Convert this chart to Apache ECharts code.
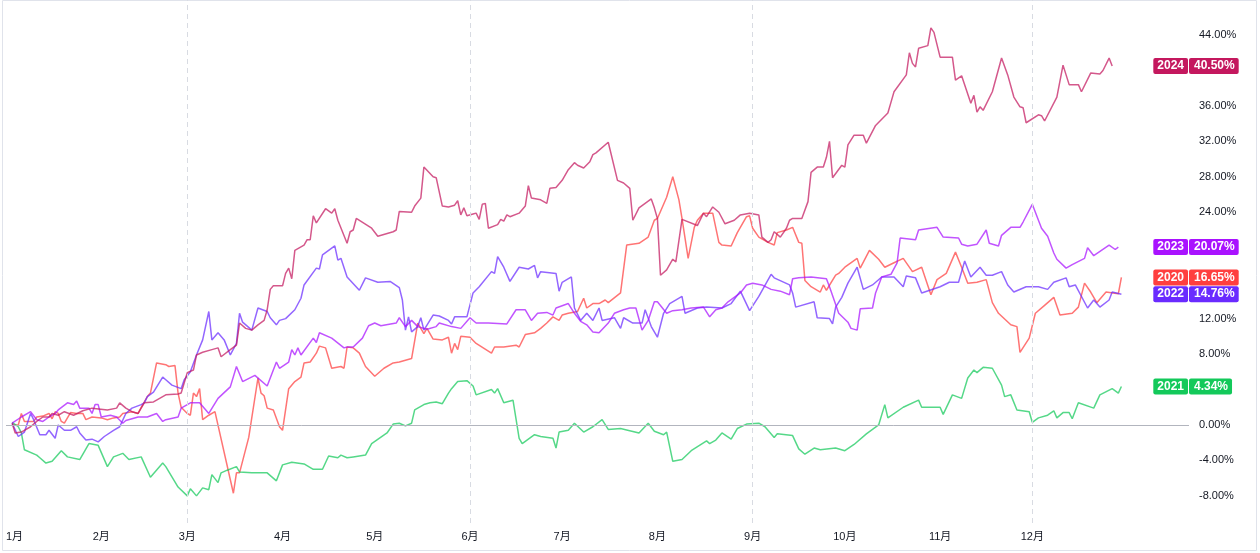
<!DOCTYPE html>
<html>
<head>
<meta charset="utf-8">
<script src="https://cdn.jsdelivr.net/npm/echarts@6/dist/echarts.min.js"></script>
<style>
html,body{margin:0;padding:0;background:#fff;}
#chart{width:1260px;height:553px;}
</style>
</head>
<body>
<div id="chart"></div>
<script>
// ---- data ----
const monthLabels = ['1月','2月','3月','4月','5月','6月','7月','8月','9月','10月','11月','12月'];
const monthStartDays = [0,31,59,90,120,151,181,212,243,273,304,334];
const quarterDays = [59,151,243,334];
const yTickValues = [-8,-4,0,8,12,24,28,32,36,44];
const years = ['2020','2021','2022','2023','2024'];

const s2021 = [[2,0.3],[4,-0.2],[5,-0.9],[6,-2.8],[10,-3.4],[11,-3.7],[13,-4.3],[15,-4.1],[18,-2.9],[20,-3.6],[24,-3.9],[27,-2.1],[30,-2.3],[33,-4.7],[35,-3.6],[38,-3.2],[40,-3.9],[44,-3.6],[47,-5.9],[51,-4.3],[52,-4.7],[56,-7.0],[59,-8.0],[60,-7.2],[62,-8.0],[64,-7.1],[66,-7.3],[67,-5.6],[69,-6.5],[70,-5.4],[72,-5.1],[75,-4.7],[76,-5.3],[80,-5.4],[85,-5.4],[88,-6.3],[90,-4.5],[93,-4.2],[97,-4.4],[100,-5.0],[103,-5.0],[105,-3.5],[108,-3.7],[109,-3.4],[111,-3.7],[113,-3.6],[117,-3.4],[119,-2.1],[124,-0.9],[126,0.1],[128,0.2],[130,-0.1],[132,0.2],[133,1.7],[136,2.3],[138,2.5],[140,2.6],[142,2.4],[144,3.6],[145,4.1],[147,4.9],[150,5.0],[152,4.4],[153,3.4],[158,4.0],[159,3.6],[160,4.1],[162,2.5],[165,2.8],[167,-1.5],[168,-2.1],[172,-1.1],[174,-1.3],[178,-1.5],[179,-2.6],[180,-0.8],[183,-0.6],[185,0.2],[188,-0.8],[191,-0.2],[194,0.6],[196,-0.5],[200,-0.4],[206,-0.9],[209,0.2],[211,-0.7],[214,-1.1],[215,-0.8],[217,-4.1],[220,-3.9],[223,-2.9],[228,-1.8],[229,-2.1],[231,-1.7],[233,-0.9],[236,-1.6],[238,-0.4],[241,0.1],[245,0.2],[247,-0.2],[250,-1.4],[251,-1.0],[256,-1.2],[258,-2.7],[260,-3.3],[263,-2.6],[265,-2.8],[270,-2.6],[273,-2.9],[276,-2.2],[280,-1.0],[284,0.0],[286,2.3],[287,0.8],[292,2.0],[297,2.8],[298,2.0],[304,2.0],[305,1.2],[308,3.4],[311,3.0],[313,5.3],[315,6.2],[316,5.9],[318,6.5],[321,6.4],[324,4.5],[325,3.2],[327,3.4],[329,1.7],[333,1.5],[334,0.3],[336,0.8],[339,1.1],[341,1.6],[342,0.8],[344,1.4],[346,1.4],[347,0.7],[349,2.5],[354,1.9],[356,3.4],[360,4.1],[362,3.6],[363,4.34]];

const s2020 = [[2,0],[4,0],[5,1.3],[6,0.4],[9,0.4],[10,0.9],[12,1.0],[14,1.3],[15,0.7],[16,1.5],[17,1.3],[18,0.4],[19,0.2],[21,1.4],[23,1.3],[25,1.3],[26,0.6],[28,0.9],[31,0.8],[33,0.6],[35,0.8],[37,0.9],[38,1.3],[41,1.5],[43,1.3],[44,2.0],[46,3.2],[47,3.6],[49,7.0],[52,6.8],[53,6.6],[55,6.7],[56,3.6],[57,2.0],[59,1.3],[60,1.1],[61,3.6],[62,3.2],[63,4.1],[64,0.6],[66,1.1],[68,1.5],[74,-7.7],[75,-5.4],[76,-5.4],[79,-1.4],[82,5.3],[83,3.6],[84,3.3],[85,1.9],[87,1.7],[89,-0.2],[90,-0.6],[92,4.1],[94,4.9],[96,5.4],[97,7.0],[99,7.1],[101,8.1],[102,8.9],[104,8.7],[106,6.4],[109,6.6],[110,6.4],[111,8.8],[113,8.7],[115,8.1],[117,6.6],[120,5.5],[123,6.4],[126,7.0],[128,7.1],[132,7.5],[134,11.5],[136,10.3],[137,10.9],[139,9.7],[142,9.6],[144,9.9],[145,8.1],[146,9.2],[147,8.5],[148,10.0],[151,9.9],[153,9.2],[158,8.1],[159,8.8],[162,8.8],[166,9.0],[167,8.8],[169,10.2],[172,10.4],[174,10.9],[176,11.5],[178,12.2],[180,11.8],[181,12.4],[183,12.6],[186,12.8],[188,14.3],[189,13.2],[191,13.7],[193,13.7],[195,14.1],[196,13.8],[200,14.9],[202,20.3],[206,20.5],[209,21.2],[211,23.1],[212,23.3],[215,25.7],[217,28.0],[219,25.4],[220,23.3],[222,18.8],[224,22.3],[225,23.1],[227,23.9],[230,23.9],[232,20.6],[233,20.3],[236,20.2],[238,21.7],[241,23.5],[242,23.6],[243,22.2],[245,21.2],[248,20.6],[250,20.3],[251,21.7],[254,22.0],[256,22.3],[258,20.6],[259,20.5],[260,16.3],[262,15.6],[265,15.0],[266,15.8],[267,15.2],[270,16.9],[271,17.1],[273,17.8],[277,18.8],[278,17.7],[281,19.7],[284,18.7],[286,17.8],[289,18.3],[292,18.8],[295,17.3],[298,17.8],[301,14.7],[303,16.4],[306,17.1],[309,19.5],[311,17.8],[313,16.0],[316,16.1],[319,16.4],[321,13.8],[323,12.6],[327,11.3],[329,11.1],[330,8.2],[333,9.8],[335,12.6],[338,13.5],[341,14.4],[343,12.4],[347,12.6],[349,13.3],[351,16.0],[353,15.0],[355,13.8],[358,15.0],[362,14.8],[363,16.65]];

const s2022 = [[2,0.2],[4,-1.3],[6,-0.8],[8,1.3],[9,0.6],[11,-1.1],[13,-1.1],[14,-0.6],[16,-1.5],[17,0],[19,-0.6],[21,-0.6],[23,-0.2],[24,-0.9],[26,-1.7],[28,-1.6],[30,-1.9],[32,-1.3],[35,-0.6],[37,-0.2],[39,1.3],[41,1.9],[44,2.3],[45,2.5],[46,3.2],[48,3.7],[51,5.4],[52,5.1],[54,4.5],[57,4.1],[58,5.1],[60,6.0],[62,7.9],[64,9.6],[66,12.8],[67,9.6],[69,10.4],[71,9.6],[73,7.9],[75,9.2],[76,12.6],[77,11.6],[80,10.7],[82,13.2],[85,12.8],[86,12.1],[88,11.3],[89,11.8],[91,12.0],[94,13.0],[96,14.3],[97,15.8],[101,17.7],[102,17.6],[103,19.2],[107,20.2],[108,18.6],[109,18.8],[111,16.7],[115,15.2],[117,16.6],[121,16.1],[125,16.2],[128,15.5],[129,14.1],[130,10.7],[131,12.2],[132,10.5],[134,11.1],[135,12.1],[136,10.7],[139,12.4],[141,12.3],[144,11.8],[145,11.4],[146,12.2],[150,12.2],[152,14.9],[154,15.6],[158,17.3],[159,17.1],[160,19.0],[162,17.8],[164,16.2],[167,17.8],[170,17.6],[172,18.0],[173,16.6],[174,17.3],[179,17.1],[180,15.1],[181,16.1],[184,16.7],[185,13.2],[187,11.8],[189,12.6],[191,11.8],[193,13.2],[194,11.8],[198,12.1],[200,10.9],[201,12.1],[204,11.5],[207,11.5],[208,13.0],[210,11.1],[212,9.9],[214,12.6],[216,13.7],[220,14.5],[221,12.6],[225,13.2],[228,13.3],[233,13.2],[236,13.7],[239,15.1],[242,12.9],[245,14.5],[249,17.0],[250,16.6],[255,15.8],[256,14.9],[257,13.3],[263,13.9],[264,12.1],[268,12.0],[269,11.4],[270,13.3],[272,14.4],[274,16.0],[277,17.8],[279,15.3],[282,15.8],[285,16.7],[289,16.7],[292,15.6],[293,16.8],[296,16.6],[298,14.9],[304,15.6],[307,16.1],[310,16.1],[312,18.5],[314,16.7],[317,17.8],[319,16.9],[321,16.9],[324,17.3],[326,15.8],[328,15.0],[332,15.6],[336,15.6],[339,15.3],[341,16.1],[345,16.6],[346,15.6],[348,15.8],[352,13.2],[354,14.1],[356,13.3],[359,14.1],[360,15.0],[363,14.76]];

const s2023 = [[2,0.2],[5,0.9],[8,1.5],[10,0.6],[12,0.4],[14,0.9],[16,1.3],[17,1.7],[20,2.5],[22,2.3],[23,2.7],[24,1.9],[27,1.9],[28,1.3],[29,2.3],[30,2.3],[31,0.9],[34,1.1],[36,0.9],[38,0.2],[39,0.5],[43,0.9],[46,0.9],[49,1.3],[51,0.4],[52,0.6],[56,0.9],[57,1.9],[60,2.5],[63,2.5],[66,1.3],[69,3.0],[73,4.3],[75,6.6],[77,4.9],[81,5.6],[85,4.4],[88,7.1],[89,6.4],[92,7.1],[93,8.5],[94,7.9],[95,8.7],[96,7.9],[100,9.8],[101,9.3],[102,10.4],[106,9.8],[110,8.7],[111,8.8],[113,8.8],[116,9.8],[118,11.2],[120,11.5],[122,11.2],[127,11.5],[128,12.1],[130,11.1],[132,11.8],[134,11.1],[137,10.8],[140,11.1],[141,11.5],[145,11.1],[148,10.9],[151,12.1],[153,11.5],[157,11.5],[163,11.4],[166,13.0],[169,13.0],[171,11.8],[173,12.6],[176,12.7],[178,12.4],[179,13.2],[183,13.7],[185,12.6],[187,11.7],[189,11.3],[191,10.5],[193,10.4],[196,11.5],[198,12.6],[201,13.0],[203,13.2],[205,13.2],[207,10.7],[209,11.8],[211,13.9],[212,13.9],[215,12.6],[217,12.9],[220,13.0],[223,13.2],[227,13.3],[229,12.2],[231,13.0],[233,13.2],[235,13.9],[237,14.4],[239,14.9],[241,15.8],[243,16.0],[246,15.8],[249,15.3],[252,15.1],[255,14.7],[256,16.5],[258,16.6],[262,16.7],[267,16.5],[268,15.6],[271,12.6],[274,11.6],[275,10.9],[277,10.7],[278,13.1],[282,13.2],[283,14.9],[285,16.7],[288,17.0],[290,18.3],[291,21.1],[296,20.9],[297,22.0],[303,22.3],[305,21.2],[310,21.1],[311,20.4],[313,20.2],[316,20.4],[319,22.0],[320,20.5],[323,20.2],[324,21.4],[327,22.3],[330,22.3],[331,22.9],[334,24.9],[337,22.2],[339,21.3],[341,19.4],[342,18.7],[345,17.7],[347,18.1],[351,18.8],[352,20.0],[354,19.1],[359,20.3],[361,19.8],[362,20.07]];

const s2024 = [[2,0.2],[3,-0.9],[5,-0.8],[8,-0.2],[10,0.4],[12,0.9],[14,0.9],[15,1.3],[17,1.1],[19,1.5],[22,1.1],[25,1.6],[28,1.9],[33,1.7],[36,1.9],[37,2.5],[39,1.9],[41,1.5],[43,1.3],[45,2.5],[48,2.6],[52,3.4],[56,3.5],[57,3.6],[59,5.9],[61,6.2],[62,7.9],[64,8.2],[67,8.5],[69,8.7],[70,7.7],[73,8.5],[75,9.0],[76,11.5],[78,10.9],[80,10.7],[82,11.3],[84,11.8],[85,13.0],[86,15.3],[87,15.7],[90,15.7],[91,17.1],[92,17.7],[93,16.5],[94,19.7],[97,20.3],[98,20.9],[99,20.9],[100,23.6],[101,22.8],[104,24.4],[106,23.9],[107,24.4],[108,23.1],[111,20.5],[112,21.8],[113,22.0],[114,23.3],[119,22.2],[121,21.3],[126,21.8],[127,22.0],[128,24.1],[132,24.0],[133,24.7],[135,25.6],[136,29.1],[139,28.0],[140,27.9],[142,24.7],[144,24.6],[146,24.8],[147,25.3],[148,23.7],[149,24.5],[150,23.6],[152,23.8],[153,23.9],[154,23.2],[155,24.9],[156,25.0],[157,22.2],[160,22.6],[161,23.2],[162,23.0],[163,23.7],[164,23.5],[167,23.9],[169,24.7],[170,27.0],[171,25.6],[174,25.4],[176,25.0],[177,26.7],[179,26.8],[181,27.6],[183,28.8],[185,29.6],[186,29.3],[188,29.0],[190,29.7],[191,30.5],[192,30.7],[196,31.9],[199,27.6],[201,27.3],[203,26.7],[204,23.1],[206,24.5],[210,25.5],[211,24.5],[212,23.3],[213,16.9],[215,17.5],[217,18.7],[218,18.4],[220,23.2],[225,22.5],[227,23.9],[228,23.5],[230,24.6],[232,24.0],[234,22.7],[237,23.1],[239,23.7],[242,23.9],[245,23.7],[246,21.2],[248,20.6],[249,20.9],[250,21.8],[252,21.2],[254,22.2],[255,23.1],[256,23.3],[259,23.3],[261,25.2],[262,28.5],[264,29.1],[266,29.1],[267,30.2],[268,32.0],[269,27.9],[272,29.3],[273,29.1],[274,31.6],[276,32.7],[279,32.7],[280,31.8],[283,33.8],[287,35.2],[288,36.4],[289,37.6],[293,39.5],[294,42.0],[295,40.8],[296,40.4],[297,42.5],[300,42.8],[301,44.8],[302,44.3],[304,41.5],[308,41.5],[309,38.9],[311,39.4],[314,36.3],[315,37.2],[316,35.3],[317,35.9],[318,35.5],[321,37.6],[324,41.4],[326,39.5],[328,37.0],[330,35.9],[331,35.8],[332,34.1],[336,35.0],[337,34.9],[338,34.3],[342,37.0],[344,40.6],[346,38.4],[349,38.4],[350,37.6],[353,39.7],[356,39.6],[357,40.0],[359,41.4],[360,40.5]];

const seriesData = { '2020': s2020, '2021': s2021, '2022': s2022, '2023': s2023, '2024': s2024 };
const seriesColors = { '2020': '#FF3F3F', '2021': '#13C95A', '2022': '#6A2BFF', '2023': '#A912FF', '2024': '#C4185E' };

// ---- chart ----
const X_MIN = 0, X_MAX = 385;
const Y_MIN = -11.06, Y_MAX = 47.95;
const FONT = '"Liberation Sans", Arial, "Noto Sans CJK SC", sans-serif';

function tagLabel(text, color, pos, dist, pad) {
  return {
    show: true, position: pos, distance: dist, formatter: text,
    color: '#fff', fontSize: 12, fontWeight: 'bold', fontFamily: FONT, lineHeight: 12,
    backgroundColor: color, padding: pad, borderRadius: 2
  };
}

function makeSeries(year) {
  const data = seriesData[year];
  const color = seriesColors[year];
  const last = data[data.length - 1];
  return {
    name: year, type: 'line', data: data, symbol: 'none', showSymbol: false,
    color: color, silent: true,
    lineStyle: { width: 1.5, color: color, opacity: 0.72 },
    emphasis: { disabled: true },
    z: 3,
    markPoint: {
      symbol: 'circle', symbolSize: 0, silent: true, animation: false, z: 10,
      data: [
        { coord: [X_MAX, last[1]], label: tagLabel(year, color, 'left', 1, [2, 4, 2, 4]) },
        { coord: [X_MAX, last[1]], label: tagLabel(last[1].toFixed(2) + '%', color, 'right', 0, [2, 4, 2, 5]) }
      ]
    }
  };
}

const chart = echarts.init(document.getElementById('chart'), null, { renderer: 'canvas' });
const option = {
  animation: false,
  backgroundColor: '#ffffff',
  grid: { left: 6, right: 71, top: 0, bottom: 30, containLabel: false },
  xAxis: {
    type: 'value', min: X_MIN, max: X_MAX,
    axisLine: { show: false }, axisTick: { show: false }, splitLine: { show: false },
    axisLabel: {
      customValues: monthStartDays,
      formatter: v => monthLabels[monthStartDays.indexOf(v)],
      color: '#131722', fontSize: 11, fontFamily: FONT, margin: 8,
      alignMinLabel: 'left'
    }
  },
  yAxis: {
    type: 'value', position: 'right', min: Y_MIN, max: Y_MAX,
    axisLine: { show: false }, axisTick: { show: false }, splitLine: { show: false },
    axisLabel: {
      customValues: yTickValues,
      formatter: v => v.toFixed(2) + '%',
      color: '#131722', fontSize: 11, fontFamily: FONT, margin: 10, align: 'left'
    }
  },
  graphic: [{
    type: 'rect', silent: true, z: -10,
    shape: { x: 2.5, y: 0.5, width: 1254, height: 550 },
    style: { fill: 'none', stroke: '#e0e3eb', lineWidth: 1 }
  }],
  series: [
    {
      type: 'line', data: [], silent: true, z: 1,
      markLine: {
        symbol: 'none', silent: true, animation: false, label: { show: false },
        emphasis: { disabled: true },
        data: [
          { yAxis: 0, lineStyle: { color: '#b2b5be', type: 'solid', width: 1 } }
        ].concat(quarterDays.map(d => ({ xAxis: d, lineStyle: { color: '#d8dbe2', type: [5, 4], width: 1 } })))
      }
    }
  ].concat(years.map(makeSeries))
};
chart.setOption(option);
</script>
</body>
</html>
